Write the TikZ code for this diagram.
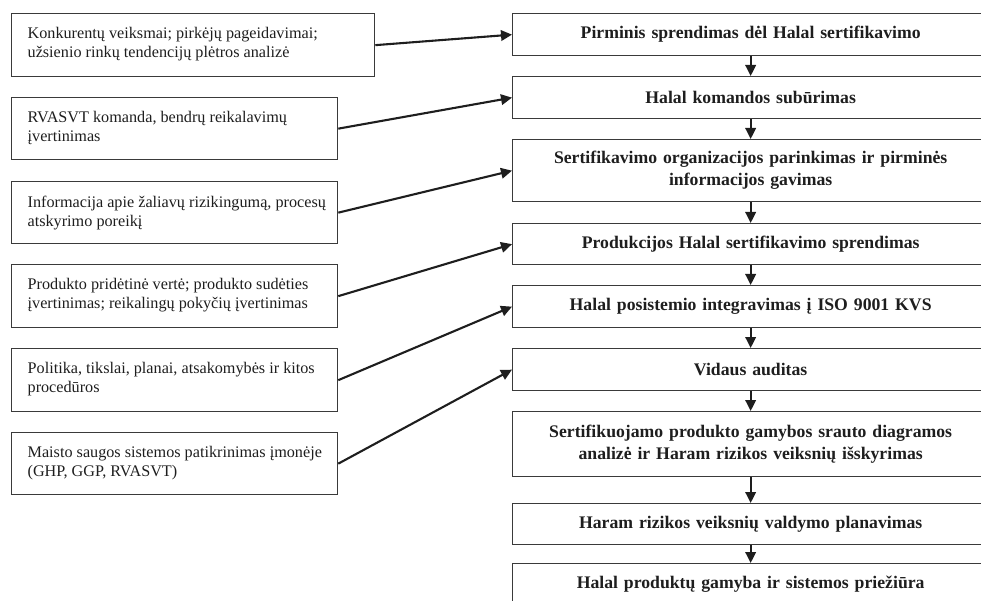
\documentclass[tikz,border=0pt]{standalone}
\usepackage{fontspec}
\setmainfont{Liberation Serif}
\usetikzlibrary{arrows.meta}
\definecolor{boxline}{HTML}{3A3A3A}
\definecolor{ink}{HTML}{1E1E1E}
\tikzset{
  inbox/.style={draw=boxline, line width=1.3pt, anchor=north west, inner sep=0pt,
    text=ink, font=\fontsize{16.2}{19}\selectfont},
  stepbox/.style={draw=boxline, line width=1.3pt, anchor=north west, minimum width=476pt,
    inner sep=0pt, text=ink, align=center, text width=460pt,
    font=\fontsize{17.7}{22}\selectfont\bfseries},
  feed/.style={line width=2.1pt, draw=ink, -{Triangle[length=11pt,width=10.5pt]}},
  flow/.style={line width=2.1pt, draw=ink, -{Triangle[length=11pt,width=10.5pt]}}
}
% input box: width, height, text set from the top left
\newcommand\intext[3]{\parbox[c][#2][t]{#1}{\leftskip=16pt\rightskip=0pt plus 1fil
  \parindent=0pt\vspace*{14pt}#3}}
\begin{document}
\begin{tikzpicture}[x=1pt,y=-1pt]
\useasboundingbox (0,0) rectangle (981,601);

% process steps
\node[stepbox, minimum height=42pt] (s1) at (512,13) {Pirminis sprendimas dėl Halal sertifikavimo};
\node[stepbox, minimum height=42pt] (s2) at (512,76) {Halal komandos subūrimas};
\node[stepbox, minimum height=62pt] (s3) at (512,139) {Sertifikavimo organizacijos parinkimas ir pirminės\\informacijos gavimas};
\node[stepbox, minimum height=41pt] (s4) at (512,223) {Produkcijos Halal sertifikavimo sprendimas};
\node[stepbox, minimum height=42pt] (s5) at (512,285) {Halal posistemio integravimas į ISO 9001 KVS};
\node[stepbox, minimum height=42pt] (s6) at (512,348) {Vidaus auditas};
\node[stepbox, minimum height=65pt] (s7) at (512,411) {Sertifikuojamo produkto gamybos srauto diagramos\\analizė ir Haram rizikos veiksnių išskyrimas};
\node[stepbox, minimum height=41pt] (s8) at (512,503) {Haram rizikos veiksnių valdymo planavimas};
\node[stepbox, minimum height=42pt] (s9) at (512,563) {Halal produktų gamyba ir sistemos priežiūra};

% inputs
\node[inbox] (i1) at (11,13) {\intext{363pt}{63pt}{Konkurentų veiksmai; pirkėjų pageidavimai;\\užsienio rinkų tendencijų plėtros analizė}};
\node[inbox] (i2) at (11,97) {\intext{326pt}{62pt}{RVASVT komanda, bendrų reikalavimų\\įvertinimas}};
\node[inbox] (i3) at (11,181) {\intext{326pt}{62pt}{Informacija apie žaliavų rizikingumą, procesų\\atskyrimo poreikį}};
\node[inbox] (i4) at (11,264) {\intext{326pt}{63pt}{Produkto pridėtinė vertė; produkto sudėties\\įvertinimas; reikalingų pokyčių įvertinimas}};
\node[inbox] (i5) at (11,348) {\intext{326pt}{63pt}{Politika, tikslai, planai, atsakomybės ir kitos\\procedūros}};
\node[inbox] (i6) at (11,432) {\intext{326pt}{62pt}{Maisto saugos sistemos patikrinimas įmonėje\\(GHP, GGP, RVASVT)}};

% flow between steps
\foreach \a/\b in {s1/s2,s2/s3,s3/s4,s4/s5,s5/s6,s6/s7,s7/s8,s8/s9}
  \draw[flow] (\a.south) -- (\b.north);

% inputs feeding the steps
\foreach \i in {1,...,6}
  \draw[feed] (i\i.east) -- (s\i.west);
\end{tikzpicture}
\end{document}
